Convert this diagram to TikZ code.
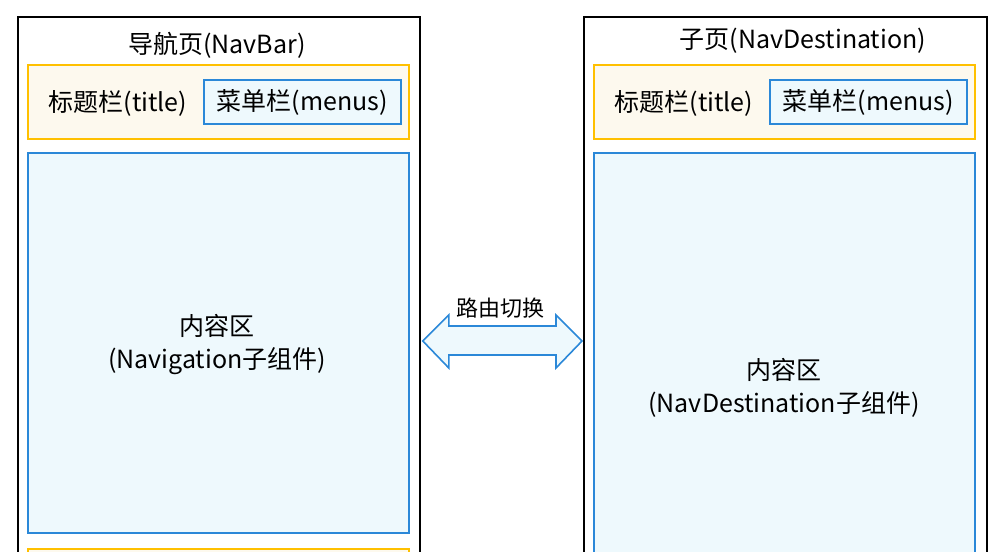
\documentclass[tikz,border=0pt]{standalone}
\usepackage{fontspec}
\setmainfont{Noto Sans CJK SC}
\usetikzlibrary{calc}
\definecolor{ybord}{HTML}{FFC000}
\definecolor{yfill}{HTML}{FDF9EE}
\definecolor{bbord}{HTML}{2B88D8}
\definecolor{bfill}{HTML}{EEF9FD}
\tikzset{
  page/.style={draw=black, line width=1.8pt, fill=white, anchor=north west, inner sep=0pt},
  titlebar/.style={draw=ybord, line width=1.8pt, fill=yfill, anchor=north west, inner sep=0pt},
  bluebox/.style={draw=bbord, line width=1.6pt, fill=bfill, anchor=north west, inner sep=0pt},
  txt/.style={font=\fontsize{25}{33}\selectfont, inner sep=0pt, align=center},
}
\begin{document}
\begin{tikzpicture}[x=1pt,y=-1pt]
\useasboundingbox (0,0) rectangle (1003,551);
\clip (0,0) rectangle (1003,551);
% left page
\node[page, minimum width=402pt, minimum height=560pt] (lpage) at (17,16) {};
\node[txt] (ltitle) at (217,45) {导航页(NavBar)};
\node[titlebar, minimum width=381pt, minimum height=74pt] (lbar) at (27,64) {};
\node[txt] (ltitletxt) at (118,103) {标题栏(title)};
\node[bluebox, minimum width=197pt, minimum height=44pt] (lmenu) at (203,79) {};
\node[txt] at ($(lmenu.center)+(0,1)$) {菜单栏(menus)};
\node[bluebox, minimum width=381pt, minimum height=380pt] (lcontent) at (27,152) {};
\node[txt] (lctxt) at (217,345) {内容区\\(Navigation子组件)};
\node[titlebar, minimum width=381pt, minimum height=40pt] (lbar2) at (27,548) {};
% right page
\node[page, minimum width=403pt, minimum height=560pt] (rpage) at (583,16) {};
\node[txt] (rtitle) at (803,41) {子页(NavDestination)};
\node[titlebar, minimum width=381pt, minimum height=74pt] (rbar) at (593,64) {};
\node[txt] (rtitletxt) at (684,103) {标题栏(title)};
\node[bluebox, minimum width=197pt, minimum height=44pt] (rmenu) at (769,79) {};
\node[txt] at ($(rmenu.center)+(0,1)$) {菜单栏(menus)};
\node[bluebox, minimum width=381pt, minimum height=420pt] (rcontent) at (593,152) {};
\node[txt] (rctxt) at (784,388) {内容区\\(NavDestination子组件)};
% double arrow
\coordinate (ltip) at ($(lpage.north east)+(2,325)$);
\coordinate (rtip) at ($(rpage.north west)+(-1,325)$);
\draw[draw=bbord, line width=1.6pt, fill=bfill, line join=miter]
  (ltip) -- ++(26,-26) -- ++(0,11) -- ($(rtip)+(-26,-15)$) -- ++(0,-11) -- (rtip)
  -- ++(-26,27) -- ++(0,-13) -- ($(ltip)+(26,14)$) -- ++(0,13) -- cycle;
\node[txt, font=\fontsize{22}{26}\selectfont] (route) at (500,308) {路由切换};
\end{tikzpicture}
\end{document}
